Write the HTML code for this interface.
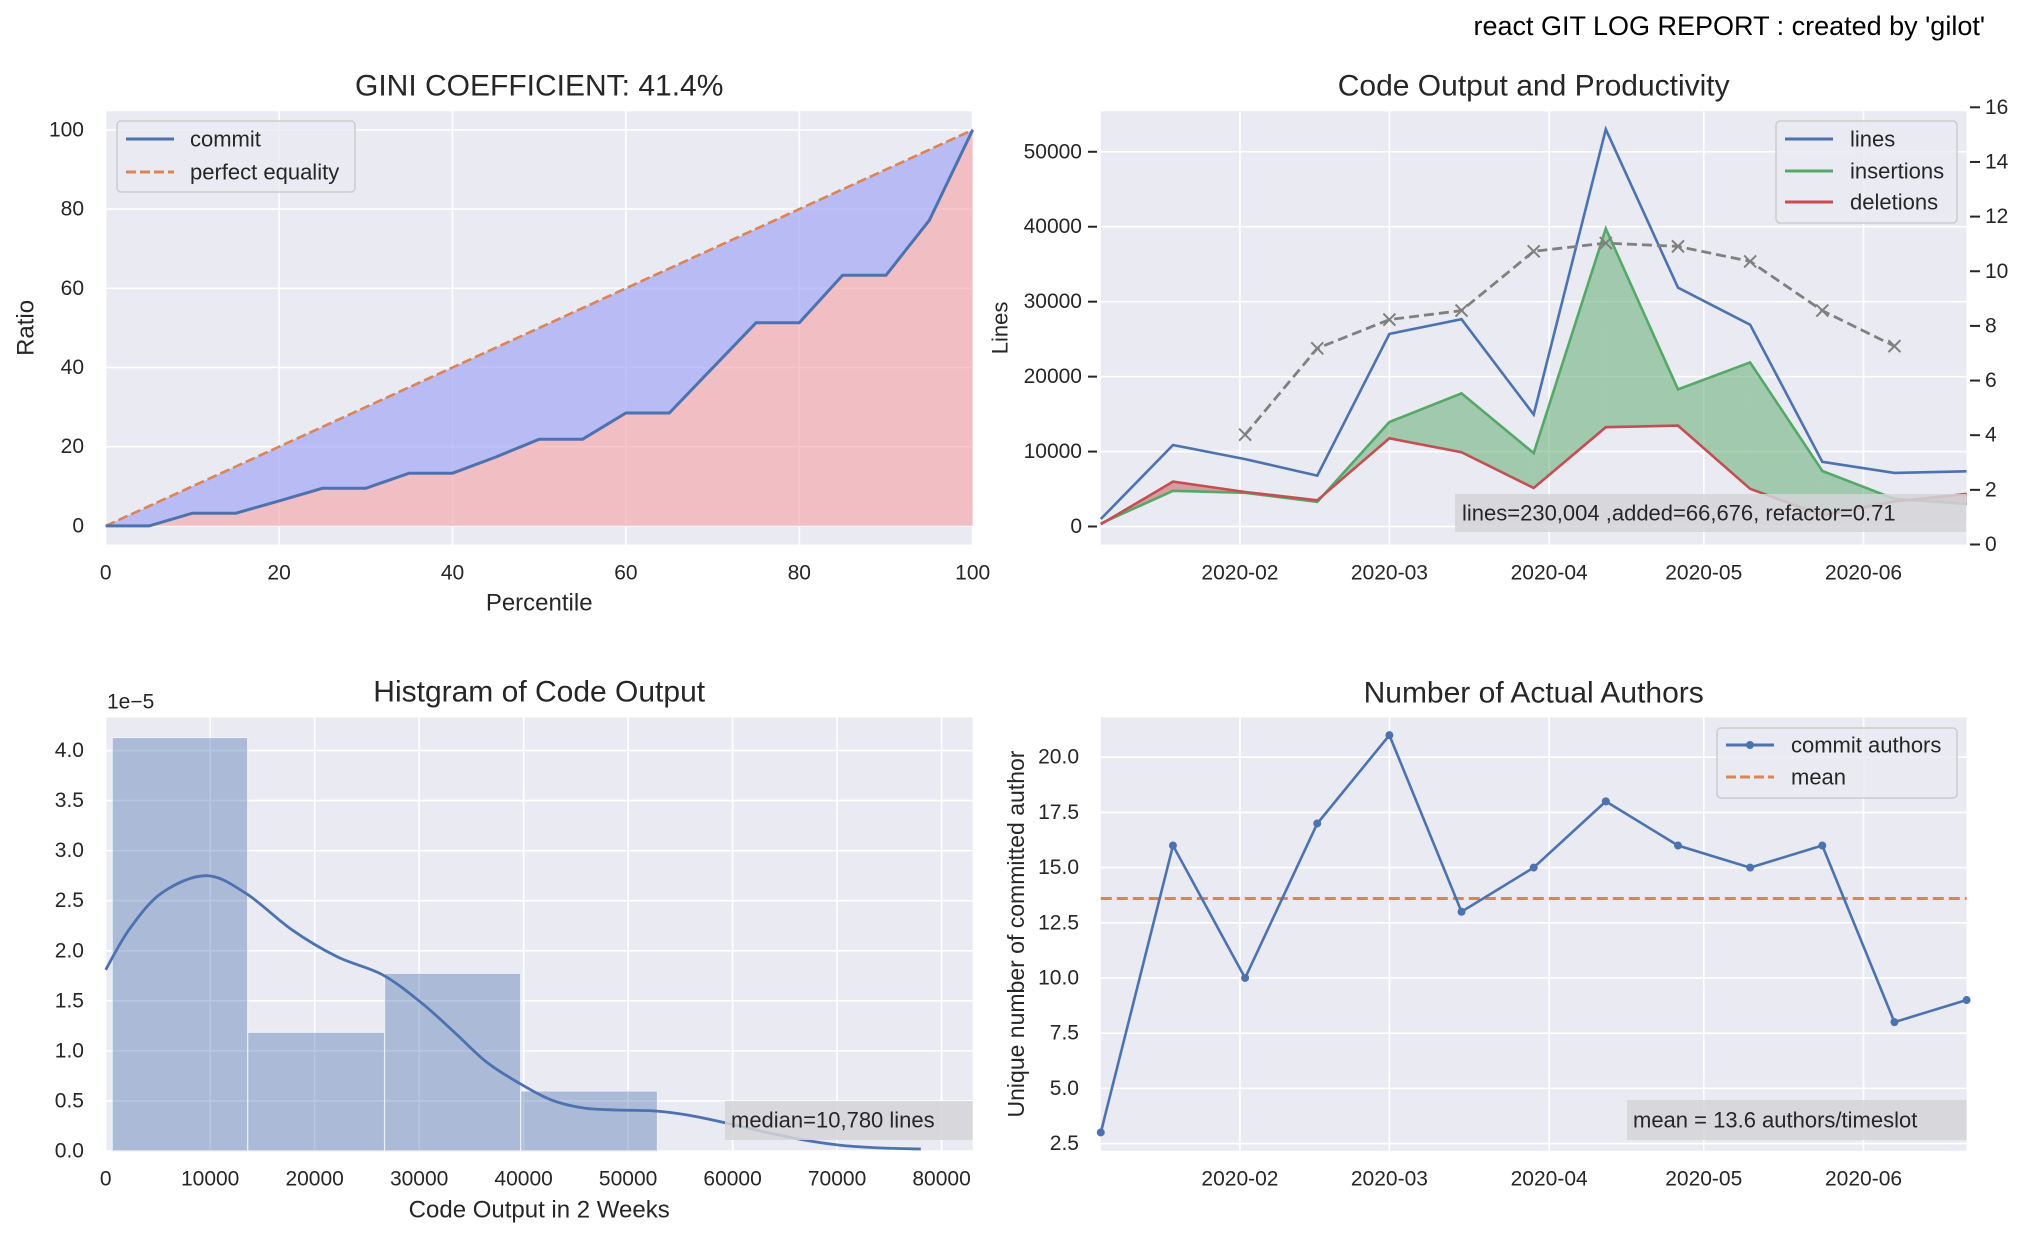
<!DOCTYPE html>
<html><head><meta charset="utf-8">
<style>
html,body{margin:0;padding:0;background:#fff;}
svg{display:block;font-family:"Liberation Sans",Arial,sans-serif;}
</style></head>
<body>
<svg id="fig" width="2024" height="1235" viewBox="0 0 2024 1235" xmlns="http://www.w3.org/2000/svg">
<text x="1985" y="35" font-size="27" text-anchor="end" fill="#000">react GIT LOG REPORT : created by 'gilot'</text>
</svg>
<script>
// ---------- Gini ----------
const giniPercentiles = [0,5,10,15,20,25,30,35,40,45,50,55,60,65,70,75,80,85,90,95,100];
const giniCommit = [0,0,3.2,3.2,6.3,9.5,9.5,13.3,13.3,17.4,21.9,21.9,28.5,28.5,39.9,51.3,51.3,63.3,63.3,77.2,100];
const giniTicks = [0,20,40,60,80,100];
// ---------- Code output ----------
const periodDates = ["2020-01-05","2020-01-19","2020-02-02","2020-02-16","2020-03-01","2020-03-15","2020-03-29","2020-04-12","2020-04-26","2020-05-10","2020-05-24","2020-06-07","2020-06-21"];
const linesValues = [1000,10870,9000,6790,25700,27660,14950,53000,31870,26930,8640,7150,7370];
const insertionValues = [400,4770,4500,3290,13940,17760,9800,39750,18290,21900,7420,3700,3020];
const deletionValues = [300,5990,4610,3500,11770,9910,5140,13250,13460,5030,1480,3340,4350];
const productivityValues = [null,null,4.02,7.18,8.23,8.56,10.73,11.03,10.91,10.36,8.56,7.26,null];
const linesTicks = [0,10000,20000,30000,40000,50000];
const rightTicks = [0,2,4,6,8,10,12,14,16];
const monthTicks = ["2020-02-01","2020-03-01","2020-04-01","2020-05-01","2020-06-01"];
const monthLabels = ["2020-02","2020-03","2020-04","2020-05","2020-06"];
// ---------- Histogram ----------
const histEdges = [620,13590,26690,39720,52810];
const histDensity = [4.13,1.186,1.775,0.60];
const kdeX = [0,2296,5400,9620,13470,17810,22160,26500,30220,33330,36430,39530,42640,45740,48840,52570,55670,59390,63110,66840,70560,74290,78010];
const kdeY = [1.81,2.22,2.58,2.75,2.57,2.21,1.94,1.76,1.48,1.19,0.89,0.68,0.51,0.43,0.41,0.40,0.36,0.28,0.19,0.11,0.055,0.03,0.02];
const histXTicks = [0,10000,20000,30000,40000,50000,60000,70000,80000];
const histYTicks = [0,0.5,1.0,1.5,2.0,2.5,3.0,3.5,4.0];
// ---------- Authors ----------
const authorCounts = [3,16,10,17,21,13,15,18,16,15,16,8,9];
const authorMean = 13.6;
const authorTicks = [2.5,5.0,7.5,10.0,12.5,15.0,17.5,20.0];

const NS="http://www.w3.org/2000/svg";
const svg=document.getElementById('fig');
function mk(tag,attrs,parent,txt){const e=document.createElementNS(NS,tag);for(const k in attrs)e.setAttribute(k,attrs[k]);if(txt!==undefined)e.textContent=txt;(parent||svg).appendChild(e);return e;}
function lin(d0,d1,r0,r1){return v=>r0+(v-d0)/(d1-d0)*(r1-r0);}
function dayOf(s){return (new Date(s+"T00:00:00Z")-new Date("2020-01-01T00:00:00Z"))/86400000;}
const BG="#eaeaf2",BLUE="#4c72b0",ORANGE="#dd8452",GREEN="#55a868",RED="#c44e52";
const TICK=21,LABEL=24,TITLE=30,LEG=22;

function panel(name,x0,y0,x1,y1){const g=mk('g',{},svg);
 const r=mk('rect',{x:x0,y:y0,width:x1-x0,height:y1-y0,fill:BG},g);return g;}
function gridV(g,px,y0,y1){const l=mk('line',{x1:px,x2:px,y1:y0,y2:y1,stroke:'#fff','stroke-width':1.6},g);}
function gridH(g,py,x0,x1){const l=mk('line',{x1:x0,x2:x1,y1:py,y2:py,stroke:'#fff','stroke-width':1.6},g);}
function label(g,name,x,y,txt,size,anchor,rot){const a={x:x,y:y,'font-size':size,'text-anchor':anchor||'middle',fill:'#262626','dominant-baseline':'central'};if(rot)a.transform=`rotate(-90 ${x} ${y})`;const t=mk('text',a,g,txt);return t;}
function pathD(xs,ys){let d='';xs.forEach((x,i)=>{d+=(i?'L':'M')+x.toFixed(1)+' '+ys[i].toFixed(1);});return d;}
function smoothD(xs,ys){let d=`M${xs[0].toFixed(1)} ${ys[0].toFixed(1)}`;const n=xs.length;
 for(let i=0;i<n-1;i++){const x0=xs[Math.max(i-1,0)],y0=ys[Math.max(i-1,0)],x1=xs[i],y1=ys[i],x2=xs[i+1],y2=ys[i+1],x3=xs[Math.min(i+2,n-1)],y3=ys[Math.min(i+2,n-1)];
  const c1x=x1+(x2-x0)/6,c1y=y1+(y2-y0)/6,c2x=x2-(x3-x1)/6,c2y=y2-(y3-y1)/6;
  d+=`C${c1x.toFixed(1)} ${c1y.toFixed(1)} ${c2x.toFixed(1)} ${c2y.toFixed(1)} ${x2.toFixed(1)} ${y2.toFixed(1)}`;}
 return d;}

// ===== Panel 1: Gini =====
{const X0=105.7,X1=972.7,Y0=111.3,Y1=544.5;const g=panel('gini-chart',X0,Y0,X1,Y1);
 const sx=lin(0,100,X0,X1),sy=lin(-4.7,104.7,Y1,Y0);
 giniTicks.forEach(v=>{gridV(g,sx(v),Y0,Y1);gridH(g,sy(v),X0,X1);});
 const xs=giniPercentiles.map(sx),ys=giniCommit.map(sy);
 let red=pathD(xs,ys)+`L${sx(100)} ${sy(0)}L${sx(0)} ${sy(0)}Z`;
 let p=mk('path',{d:red,fill:'#f4a6ab','fill-opacity':0.65},g);
 let blue=pathD(xs,ys)+pathD(giniPercentiles.slice().reverse().map(sx),giniPercentiles.slice().reverse().map(sy)).replace('M','L')+'Z';
 p=mk('path',{d:blue,fill:'#a8abf5','fill-opacity':0.75},g);
 p=mk('path',{d:pathD(giniPercentiles.map(sx),giniPercentiles.map(sy)),fill:'none',stroke:ORANGE,'stroke-width':2.6,'stroke-dasharray':'10 4'},g);
 p=mk('path',{d:pathD(xs,ys),fill:'none',stroke:BLUE,'stroke-width':3},g);
 giniTicks.forEach(v=>{label(g,'x-tick-label',sx(v),573,String(v),TICK);label(g,'y-tick-label',84,sy(v),String(v),TICK,'end');});
 label(g,'gini-title',(X0+X1)/2,86,'GINI COEFFICIENT: 41.4%',TITLE);
 label(g,'x-axis-title',(X0+X1)/2,603,'Percentile',LABEL);
 label(g,'y-axis-title',26,(Y0+Y1)/2,'Ratio',LABEL,'middle',true);
 const lg=mk('g',{},g);
 mk('rect',{x:117,y:121,width:238,height:71,rx:4,fill:BG,stroke:'#cccccc','stroke-width':1.5,'fill-opacity':0.8},lg);
 mk('line',{x1:126,x2:174,y1:139,y2:139,stroke:BLUE,'stroke-width':3},lg);
 mk('line',{x1:126,x2:174,y1:172,y2:172,stroke:ORANGE,'stroke-width':3,'stroke-dasharray':'10 4'},lg);
 label(lg,'legend-entry-commit',190,139,'commit',LEG,'start');
 label(lg,'legend-entry-perfect-equality',190,172,'perfect equality',LEG,'start');
}

// ===== Panel 2: Code output =====
{const X0=1100.8,X1=1966.6,Y0=111.3,Y1=544.5;const g=panel('code-output-chart',X0,Y0,X1,Y1);
 const sx=lin(dayOf(periodDates[0]),dayOf(periodDates[periodDates.length-1]),X0,X1);
 const sy=lin(-2400,55400,Y1,Y0),sr=lin(0,16,Y1,107.3);
 monthTicks.forEach((m,i)=>{gridV(g,sx(dayOf(m)),Y0,Y1);label(g,'x-tick-label',sx(dayOf(m)),573,monthLabels[i],TICK);});
 linesTicks.forEach(v=>{gridH(g,sy(v),X0,X1);label(g,'y-tick-label',1082,sy(v),String(v),TICK,'end');mk('line',{x1:1088,x2:1097,y1:sy(v),y2:sy(v),stroke:'#262626','stroke-width':2},g);});
 rightTicks.forEach(v=>{label(g,'right-y-tick-label',1985,sr(v),String(v),TICK,'start');mk('line',{x1:1970,x2:1980,y1:sr(v),y2:sr(v),stroke:'#262626','stroke-width':2},g);});
 const xs=periodDates.map(d=>sx(dayOf(d)));
 for(let i=0;i<xs.length-1;i++){
  const a1=insertionValues[i],a2=insertionValues[i+1],b1=deletionValues[i],b2=deletionValues[i+1];
  const d1=a1-b1,d2=a2-b2;
  const seg=(t0,t1,col)=>{const xa=xs[i]+(xs[i+1]-xs[i])*t0,xb=xs[i]+(xs[i+1]-xs[i])*t1;
    const ia=a1+(a2-a1)*t0,ib=a1+(a2-a1)*t1,da=b1+(b2-b1)*t0,db=b1+(b2-b1)*t1;
    const p=mk('path',{d:`M${xa} ${sy(ia)}L${xb} ${sy(ib)}L${xb} ${sy(db)}L${xa} ${sy(da)}Z`,fill:col,'fill-opacity':0.5},g);
    };
  if(d1*d2<0){const t=d1/(d1-d2);seg(0,t,d1>0?GREEN:RED);seg(t,1,d2>0?GREEN:RED);}else seg(0,1,(d1+d2)>=0?GREEN:RED);
 }
 let p=mk('path',{d:pathD(xs,linesValues.map(sy)),fill:'none',stroke:BLUE,'stroke-width':2.6},g);
 p=mk('path',{d:pathD(xs,insertionValues.map(sy)),fill:'none',stroke:GREEN,'stroke-width':2.6},g);
 p=mk('path',{d:pathD(xs,deletionValues.map(sy)),fill:'none',stroke:RED,'stroke-width':2.6},g);
 const px=[],py=[];productivityValues.forEach((v,i)=>{if(v!==null){px.push(xs[i]);py.push(sr(v));}});
 p=mk('path',{d:pathD(px,py),fill:'none',stroke:'#808080','stroke-width':2.8,'stroke-dasharray':'10 5'},g);
 px.forEach((x,i)=>{const m=mk('path',{d:`M${x-6} ${py[i]-6}L${x+6} ${py[i]+6}M${x-6} ${py[i]+6}L${x+6} ${py[i]-6}`,stroke:'#808080','stroke-width':2},g);});
 const tb=mk('g',{},g);
 mk('rect',{x:1455,y:494,width:511,height:38,fill:'#d5d5d8','fill-opacity':0.85},tb);
 label(tb,'code-summary-text',1462,513,'lines=230,004 ,added=66,676, refactor=0.71',LEG,'start');
 label(g,'code-output-title',(X0+X1)/2,86,'Code Output and Productivity',TITLE);
 label(g,'y-axis-title',1000,(Y0+Y1)/2,'Lines',LABEL-2,'middle',true);
 const lg=mk('g',{},g);
 mk('rect',{x:1776,y:121,width:181,height:102,rx:4,fill:BG,stroke:'#cccccc','stroke-width':1.5,'fill-opacity':0.8},lg);
 [['lines',BLUE,139],['insertions',GREEN,171],['deletions',RED,202]].forEach(e=>{mk('line',{x1:1785,x2:1833,y1:e[2],y2:e[2],stroke:e[1],'stroke-width':3},lg);label(lg,'legend-entry-'+e[0],1850,e[2],e[0],LEG,'start');});
}

// ===== Panel 3: Histogram =====
{const X0=105.7,X1=972.7,Y0=717.5,Y1=1151;const g=panel('histogram-chart',X0,Y0,X1,Y1);
 const sx=lin(0,82980,X0,X1),sy=lin(0,4.33,Y1,Y0);
 histXTicks.forEach(v=>{gridV(g,sx(v),Y0,Y1);label(g,'x-tick-label',sx(v),1179,String(v),TICK);});
 histYTicks.forEach(v=>{gridH(g,sy(v),X0,X1);label(g,'y-tick-label',84,sy(v),v.toFixed(1),TICK,'end');});
 histDensity.forEach((h,i)=>{const r=mk('rect',{x:sx(histEdges[i]),y:sy(h),width:sx(histEdges[i+1])-sx(histEdges[i]),height:sy(0)-sy(h),fill:BLUE,'fill-opacity':0.4,stroke:'#eef0f8','stroke-width':1.2},g);});
 let p=mk('path',{d:smoothD(kdeX.map(sx),kdeY.map(sy)),fill:'none',stroke:BLUE,'stroke-width':2.8,'stroke-linejoin':'round'},g);
 const tb=mk('g',{},g);
 mk('rect',{x:725,y:1101,width:247.7,height:39,fill:'#d5d5d8','fill-opacity':0.85},tb);
 label(tb,'median-text',731,1120,'median=10,780 lines',LEG,'start');
 label(g,'histogram-title',(X0+X1)/2,692,'Histgram of Code Output',TITLE);
 label(g,'y-offset-label',107,702,'1e\u22125',TICK,'start');
 label(g,'x-axis-title',(X0+X1)/2,1210,'Code Output in 2 Weeks',LABEL);
}

// ===== Panel 4: Authors =====
{const X0=1100.8,X1=1966.6,Y0=717.5,Y1=1150.8;const g=panel('authors-chart',X0,Y0,X1,Y1);
 const sx=lin(dayOf(periodDates[0]),dayOf(periodDates[periodDates.length-1]),X0,X1),sy=lin(2.17,21.8,Y1,Y0);
 monthTicks.forEach((m,i)=>{gridV(g,sx(dayOf(m)),Y0,Y1);label(g,'x-tick-label',sx(dayOf(m)),1179,monthLabels[i],TICK);});
 authorTicks.forEach(v=>{gridH(g,sy(v),X0,X1);label(g,'y-tick-label',1079,sy(v),v.toFixed(1),TICK,'end');});
 const xs=periodDates.map(d=>sx(dayOf(d))),ys=authorCounts.map(sy);
 let p=mk('line',{x1:X0,x2:X1,y1:sy(authorMean),y2:sy(authorMean),stroke:ORANGE,'stroke-width':3,'stroke-dasharray':'11 5'},g);
 p=mk('path',{d:pathD(xs,ys),fill:'none',stroke:BLUE,'stroke-width':2.6},g);
 xs.forEach((x,i)=>{const c=mk('circle',{cx:x,cy:ys[i],r:4,fill:BLUE},g);});
 const tb=mk('g',{},g);
 mk('rect',{x:1627,y:1100,width:339.6,height:40,fill:'#d5d5d8','fill-opacity':0.85},tb);
 label(tb,'mean-text',1633,1120,'mean = 13.6 authors/timeslot',LEG,'start');
 label(g,'authors-title',(X0+X1)/2,693,'Number of Actual Authors',TITLE);
 label(g,'y-axis-title',1016,934,'Unique number of committed author',LABEL-1,'middle',true);
 const lg=mk('g',{},g);
 mk('rect',{x:1717,y:728,width:240,height:70,rx:4,fill:BG,stroke:'#cccccc','stroke-width':1.5,'fill-opacity':0.8},lg);
 mk('line',{x1:1726,x2:1774,y1:745,y2:745,stroke:BLUE,'stroke-width':3},lg);mk('circle',{cx:1750,cy:745,r:4,fill:BLUE},lg);
 mk('line',{x1:1726,x2:1774,y1:777,y2:777,stroke:ORANGE,'stroke-width':3,'stroke-dasharray':'10 4'},lg);
 label(lg,'legend-entry-commit-authors',1791,745,'commit authors',LEG,'start');
 label(lg,'legend-entry-mean',1791,777,'mean',LEG,'start');
}
</script>
</body></html>
